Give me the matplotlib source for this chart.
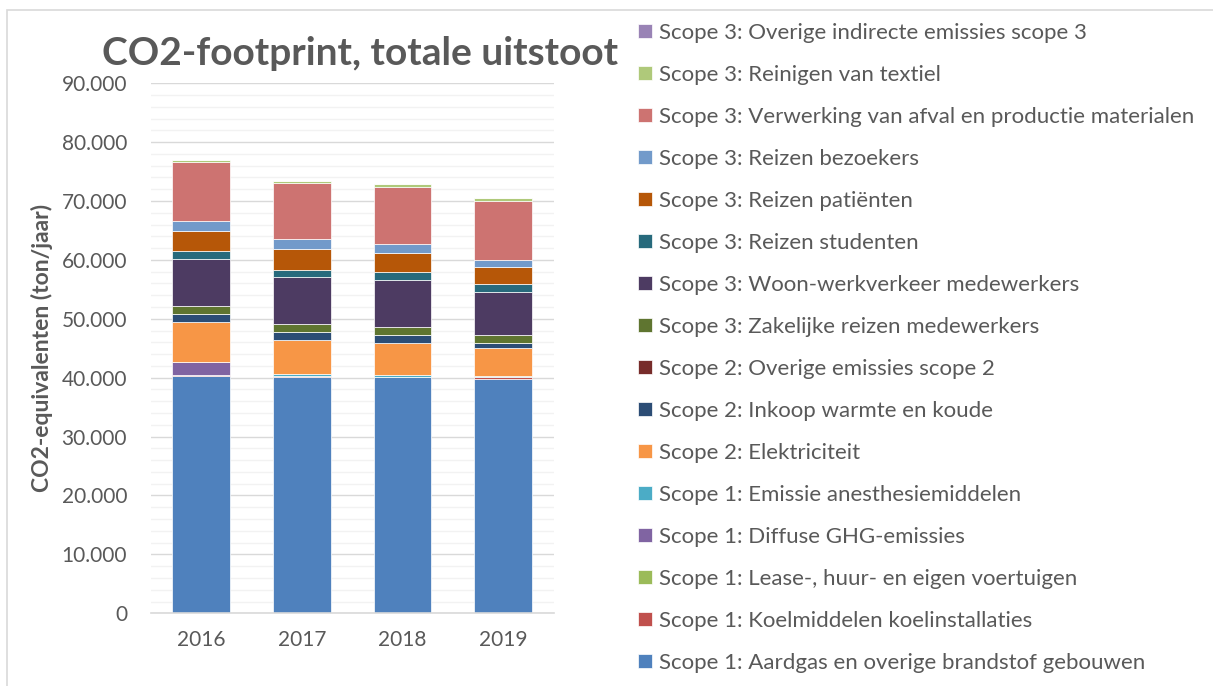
import matplotlib.pyplot as plt
from matplotlib.ticker import FuncFormatter, MultipleLocator
from matplotlib.patches import Rectangle
import numpy as np

plt.rcParams['font.family'] = ['Lato', 'DejaVu Sans']

years = ["2016", "2017", "2018", "2019"]

# stacking order, bottom to top (ton CO2-eq per year)
aardgas = [40240, 40170, 40070, 39780]
koelmiddelen = [220, 170, 50, 290]
lease = [0, 0, 0, 0]
diffuse = [2260, 0, 0, 0]
anesthesie = [0, 290, 290, 270]
elektriciteit = [6790, 5770, 5540, 4650]
inkoop_warmte = [1250, 1300, 1240, 840]
overig_scope2 = [0, 0, 0, 0]
zakelijk = [1410, 1360, 1420, 1360]
woon_werk = [7930, 7980, 7980, 7360]
studenten = [1350, 1300, 1300, 1300]
patienten = [3490, 3570, 3340, 2940]
bezoekers = [1640, 1580, 1410, 1250]
afval = [10020, 9510, 9790, 10020]
textiel = [340, 400, 400, 450]
overig_scope3 = [0, 0, 0, 0]

series = [
    ("Scope 1: Aardgas en overige brandstof gebouwen", aardgas, "#4F81BD"),
    ("Scope 1: Koelmiddelen koelinstallaties", koelmiddelen, "#C0504D"),
    ("Scope 1: Lease-, huur- en eigen voertuigen", lease, "#9BBB59"),
    ("Scope 1: Diffuse GHG-emissies", diffuse, "#8064A2"),
    ("Scope 1: Emissie anesthesiemiddelen", anesthesie, "#4BACC6"),
    ("Scope 2: Elektriciteit", elektriciteit, "#F79646"),
    ("Scope 2: Inkoop warmte en koude", inkoop_warmte, "#2C4D75"),
    ("Scope 2: Overige emissies scope 2", overig_scope2, "#772C2A"),
    ("Scope 3: Zakelijke reizen medewerkers", zakelijk, "#5F7530"),
    ("Scope 3: Woon-werkverkeer medewerkers", woon_werk, "#4D3B62"),
    ("Scope 3: Reizen studenten", studenten, "#276A7C"),
    ("Scope 3: Reizen patiënten", patienten, "#B65708"),
    ("Scope 3: Reizen bezoekers", bezoekers, "#729ACA"),
    ("Scope 3: Verwerking van afval en productie materialen", afval, "#CD7371"),
    ("Scope 3: Reinigen van textiel", textiel, "#AFC97A"),
    ("Scope 3: Overige indirecte emissies scope 3", overig_scope3, "#9983B5"),
]

text_color = "#595959"

fig = plt.figure(figsize=(12.13, 6.86), dpi=100)
fig.patches.append(Rectangle((0.006, -0.1), 1.1, 1.0854, transform=fig.transFigure,
                             fill=False, edgecolor="#D9D9D9", linewidth=1.2))

ax = fig.add_axes([0.1242, 0.106, 0.3322, 0.7727])

x = np.arange(len(years))
bottom = np.zeros(len(years))
handles = []
for label, vals, color in series:
    b = ax.bar(x, vals, 0.575, bottom=bottom, color=color, label=label,
               edgecolor="white", linewidth=0.5)
    handles.append(b)
    bottom += np.array(vals)

ax.set_xlim(-0.5, 3.5)
ax.set_ylim(0, 90000)
ax.yaxis.set_major_locator(MultipleLocator(10000))
ax.yaxis.set_minor_locator(MultipleLocator(2000))
ax.yaxis.set_major_formatter(FuncFormatter(lambda v, p: f"{int(v):,}".replace(",", ".")))
ax.grid(axis="y", which="major", color="#D9D9D9", linewidth=1.0)
ax.grid(axis="y", which="minor", color="#F2F2F2", linewidth=1.0)
ax.set_axisbelow(True)
for s in ["top", "right", "left"]:
    ax.spines[s].set_visible(False)
ax.spines["bottom"].set_color("#D9D9D9")
ax.spines["bottom"].set_linewidth(1.2)
ax.tick_params(axis="both", which="both", length=0, labelsize=15, colors=text_color)
ax.tick_params(axis="y", pad=17)
ax.tick_params(axis="x", pad=12)
ax.set_xticks(x)
ax.set_xticklabels(years)

ax.set_ylabel("CO2-equivalenten (ton/jaar)", fontsize=16.5, fontweight="bold",
              color=text_color, labelpad=6)

fig.text(0.297, 0.922, "CO2-footprint, totale uitstoot", fontsize=28, fontweight="bold",
         color=text_color, ha="center", va="center")

leg = fig.legend(handles[::-1], [s[0] for s in series][::-1], loc="upper left",
                 bbox_to_anchor=(0.5095, 0.996), frameon=False, fontsize=16,
                 handlelength=0.63, handleheight=0.63, handletextpad=0.3,
                 labelspacing=0.99, labelcolor=text_color)

fig.savefig("out.png", dpi=100)
